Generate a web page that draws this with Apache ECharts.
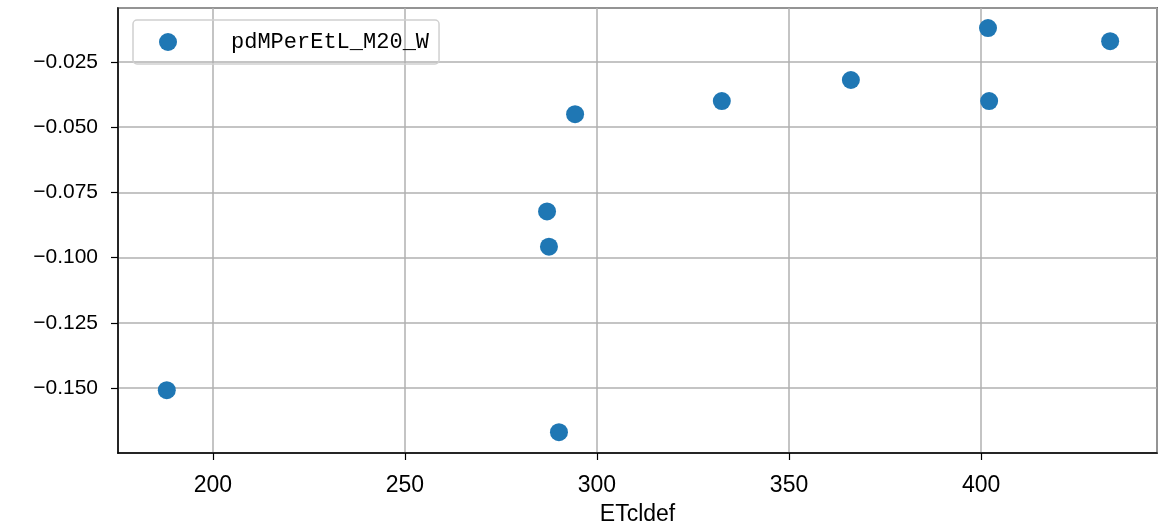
<!DOCTYPE html>
<html>
<head>
<meta charset="utf-8">
<script src="https://cdn.jsdelivr.net/npm/echarts@6/dist/echarts.min.js"></script>
<style>
    html, body { margin: 0; padding: 0; background: #fff; }
    #chart { width: 1158px; height: 526px; }
</style>
</head>
<body>
<div id="chart"></div>
<script>
    // data
    const seriesName = 'pdMPerEtL_M20_W';
    const xName = 'ETcldef';
    const etcldef = [188.0, 290.1, 287.0, 287.5, 294.3, 332.5, 366.1, 401.8, 402.1, 433.6];
    const pdValues = [-0.1508, -0.1669, -0.0823, -0.0958, -0.0450, -0.0400, -0.0319, -0.0120, -0.0400, -0.0170];
    const xTicks = [200, 250, 300, 350, 400];
    const yTicks = [-0.150, -0.125, -0.100, -0.075, -0.050, -0.025];

    const sans = 'Liberation Sans';
    const mono = 'Liberation Mono';
    const blue = '#1f77b4';

    const points = etcldef.map((x, i) => [x, pdValues[i]]);

    function onTick(list, v) {
        return list.some(t => Math.abs(t - v) < 1e-9);
    }

    const chart = echarts.init(document.getElementById('chart'));
    chart.setOption({
        animation: false,
        grid: {
            show: true,
            left: 118,
            right: 1,
            top: 8,
            bottom: 73,
            outerBoundsMode: 'none',
            containLabel: false,
            borderColor: '#000',
            borderWidth: 1.5,
            backgroundColor: 'transparent'
        },
        legend: {
            left: 133,
            top: 20,
            padding: [11, 10, 11, 26],
            itemWidth: 18,
            itemHeight: 18,
            icon: 'circle',
            borderColor: '#d0d0d0',
            borderWidth: 1.5,
            borderRadius: 4,
            textStyle: {
                fontFamily: mono,
                fontSize: 22,
                color: '#000',
                padding: [0, 0, 0, 49]
            },
            data: [seriesName]
        },
        xAxis: {
            type: 'value',
            min: 175.3,
            max: 445.8,
            minInterval: 50,
            maxInterval: 50,
            name: xName,
            nameLocation: 'middle',
            nameGap: 50,
            nameTextStyle: { fontFamily: sans, fontSize: 23, color: '#000' },
            axisLine: { show: true, lineStyle: { color: '#000', width: 1.5 } },
            axisTick: { show: true, length: 7, lineStyle: { color: '#000', width: 1.2 } },
            axisLabel: {
                fontFamily: sans,
                fontSize: 23,
                color: '#000',
                margin: 21,
                showMinLabel: false,
                showMaxLabel: false,
                formatter: v => onTick(xTicks, v) ? String(Math.round(v)) : ''
            },
            splitLine: { show: true, lineStyle: { color: '#b0b0b0', width: 1.5 } }
        },
        yAxis: {
            type: 'value',
            min: -0.1749,
            max: -0.0043,
            minInterval: 0.025,
            maxInterval: 0.025,
            axisLine: { show: true, lineStyle: { color: '#000', width: 1.5 } },
            axisTick: { show: true, length: 7, lineStyle: { color: '#000', width: 1.2 } },
            axisLabel: {
                fontFamily: sans,
                fontSize: 21,
                color: '#000',
                margin: 20,
                showMinLabel: false,
                showMaxLabel: false,
                formatter: v => onTick(yTicks, v) ? '\u2212' + Math.abs(v).toFixed(3) : ''
            },
            splitLine: { show: true, lineStyle: { color: '#b0b0b0', width: 1.5 } }
        },
        series: [{
            name: seriesName,
            type: 'scatter',
            symbol: 'circle',
            symbolSize: 18,
            itemStyle: { color: blue, opacity: 1 },
            data: points
        }]
    });
</script>
</body>
</html>
